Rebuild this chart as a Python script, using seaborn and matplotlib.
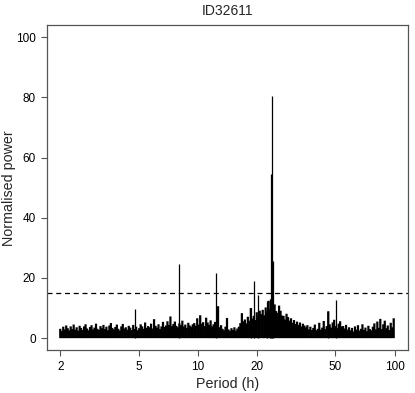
import numpy as np
import matplotlib
matplotlib.use("Agg")
import matplotlib.pyplot as plt
import seaborn as sns

# background periodogram powers on an even log grid 2..100 h
background_power = [
    3.1, 2.4, 3.8, 2.9, 4.2, 3.3, 2.6, 3.9, 3.0, 4.5, 2.8, 3.6, 2.5, 4.1, 3.4,
    2.7, 3.9, 4.6, 3.2, 2.6, 3.7, 4.3, 2.9, 3.5, 4.8, 3.1, 2.7, 4.0, 3.3, 4.4,
    3.0, 3.8, 2.6, 4.2, 5.0, 3.4, 2.9, 3.7, 4.5, 3.1, 2.5, 3.9, 4.7, 3.2, 3.6,
    2.8, 4.1, 3.5, 2.7, 4.4, 3.0, 3.8, 2.6, 3.3, 4.6, 3.9, 3.1, 5.2, 3.4, 4.0,
    3.6, 4.8, 3.2, 6.3, 4.1, 3.5, 4.6, 3.0, 3.9, 5.4, 3.7, 4.2, 5.6, 4.4, 7.2,
    4.0, 4.7, 5.5, 4.1, 3.6, 4.9, 4.3, 5.8, 3.9, 4.5, 3.4, 5.1, 4.2, 3.8, 4.6,
    5.0, 4.1, 6.6, 4.5, 7.6, 4.8, 5.3, 4.0, 6.8, 5.2, 4.4, 5.9, 3.9, 4.6, 5.4,
    4.1, 10.6, 3.6, 4.3, 3.1, 2.6, 3.8, 6.7, 2.9, 2.4, 3.3, 2.7, 3.6, 2.5, 3.2,
    3.8, 5.0, 8.3, 5.6, 6.2, 4.9, 7.1, 5.8, 10.0, 6.5, 7.4, 6.0, 8.6, 7.2, 9.1,
    8.0, 9.4, 7.6, 10.2, 8.8, 12.4, 9.6, 12.9, 10.5, 11.2, 9.0, 8.4, 10.8, 9.1, 7.5,
    7.4, 6.2, 8.1, 7.0, 5.8, 6.6, 5.1, 6.0, 4.7, 5.5, 4.4, 5.2, 3.9, 4.8, 4.2,
    3.6, 4.3, 2.9, 3.8, 2.7, 3.4, 4.5, 2.6, 3.1, 5.1, 2.8, 3.5, 5.7, 3.0, 4.0,
    8.9, 4.6, 3.5, 5.2, 6.1, 4.0, 3.3, 4.8, 5.6, 3.9, 4.0, 3.2, 4.4, 2.8, 3.6,
    2.6, 3.4, 2.2, 3.9, 2.8, 4.3, 2.5, 3.1, 4.6, 2.7, 3.5, 2.3, 4.1, 3.0, 2.6,
    3.8, 4.9, 2.9, 5.5, 3.4, 6.4, 3.0, 4.6, 5.8, 3.3, 4.2, 2.7, 5.1, 3.6, 6.6,
]
background_period = np.geomspace(2, 99, len(background_power))

# isolated peaks
peak_period = [4.8, 8.0, 12.4, 18.6, 19.4, 20.3, 22.6, 23.2, 23.6, 23.9, 24.2, 46.0, 50.2]
peak_power = [9.7, 24.6, 21.7, 10.1, 18.9, 14.3, 12.5, 13.0, 54.5, 80.5, 25.5, 9.0, 12.7]

threshold = 15.0
x_ticks = [2, 5, 10, 20, 50, 100]
y_ticks = [0, 20, 40, 60, 80, 100]

sns.set_style("ticks")
plt.rcParams["font.family"] = ["Liberation Sans", "DejaVu Sans"]

fig = plt.figure(figsize=(4.15, 3.93), dpi=100)
ax = fig.add_axes([0.113, 0.109, 0.870, 0.827])

bg = ax.vlines(background_period, 0, background_power, color="black", linewidth=1.6)
bg.set_snap(False)
ax.vlines(peak_period, 0, peak_power, color="black", linewidth=0.9)
ax.axhline(threshold, color="black", linestyle=(0, (4, 3)), linewidth=0.9)

ax.set_xscale("log")
pad = 10 ** 0.068
ax.set_xlim(2 / pad, 100 * pad)
ax.set_ylim(-4, 104)
ax.set_xticks(x_ticks)
ax.set_xticklabels([str(t) for t in x_ticks])
ax.xaxis.set_minor_locator(matplotlib.ticker.NullLocator())
ax.set_yticks(y_ticks)

for side in ["top", "right", "left", "bottom"]:
    ax.spines[side].set_visible(True)
    ax.spines[side].set_color("#555555")
    ax.spines[side].set_linewidth(0.9)
ax.tick_params(axis="both", direction="out", length=4, width=0.8, color="#555555",
               labelsize=8.5, labelcolor="black", pad=4)

ax.set_xlabel("Period (h)", fontsize=10.3)
ax.set_ylabel("Normalised power", fontsize=10.3)
ax.xaxis.set_label_coords(0.5, -0.082)
ax.yaxis.set_label_coords(-0.085, 0.5)
ax.set_title("ID32611", fontsize=10, pad=7)

fig.savefig("out.png", dpi=100)
